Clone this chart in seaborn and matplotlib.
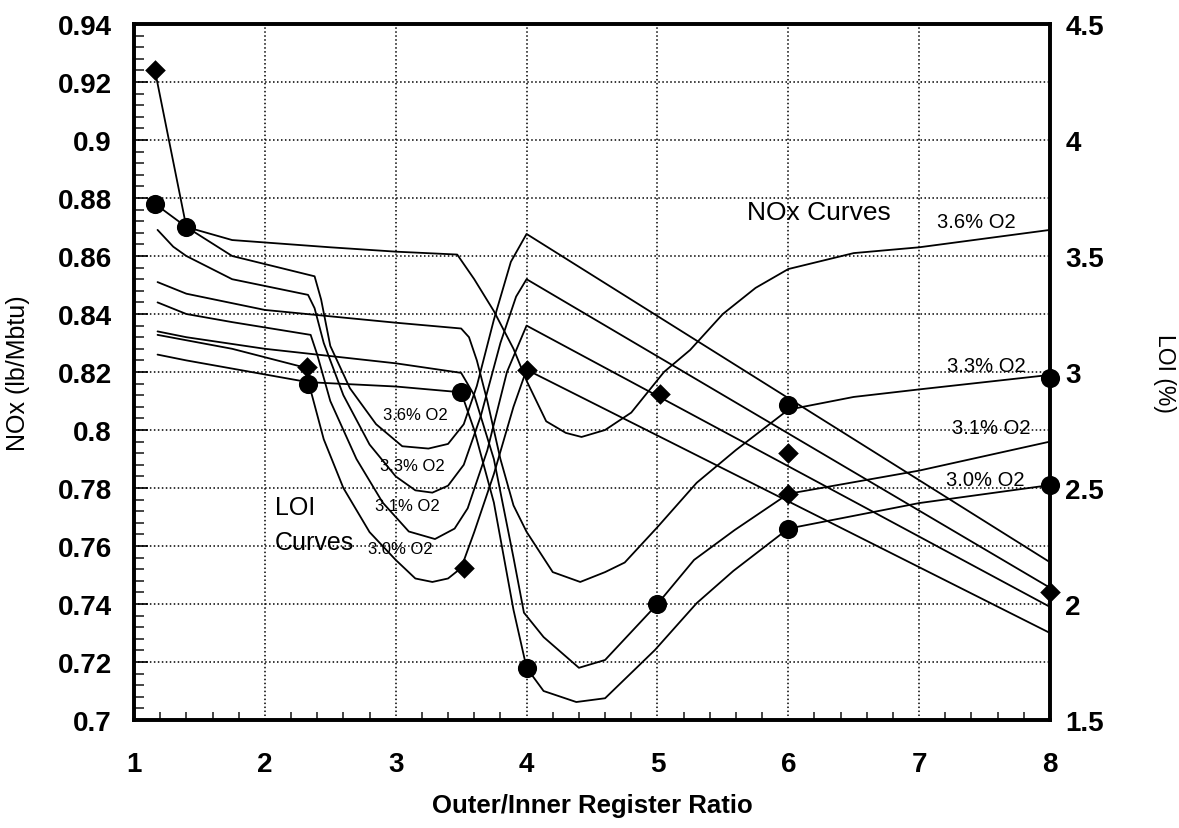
import numpy as np
import matplotlib
matplotlib.use("Agg")
import matplotlib.pyplot as plt
from matplotlib.ticker import MultipleLocator, FuncFormatter
import seaborn as sns

# ---------------- data ----------------
# NOx curves (left axis, lb/Mbtu)
nox36_x = [1.16, 1.4, 1.75, 2.5, 3.0, 3.47, 3.6, 3.75, 3.9, 4.0, 4.15, 4.3, 4.42, 4.6, 4.8, 5.05, 5.25, 5.5, 5.75, 6.0, 6.5, 7.0, 8.0]
nox36_y = [0.878, 0.870, 0.8655, 0.863, 0.8615, 0.8605, 0.852, 0.841, 0.828, 0.817, 0.803, 0.799, 0.7976, 0.800, 0.806, 0.820, 0.8276, 0.840, 0.849, 0.8555, 0.861, 0.863, 0.869]
nox33_x = [1.18, 1.4, 2.0, 3.0, 3.5, 3.56, 3.62, 3.7, 3.8, 3.9, 4.0, 4.2, 4.41, 4.6, 4.75, 5.0, 5.3, 5.6, 6.0, 6.5, 7.0, 8.0]
nox33_y = [0.851, 0.847, 0.8414, 0.837, 0.835, 0.832, 0.824, 0.810, 0.790, 0.774, 0.7649, 0.751, 0.7476, 0.751, 0.7543, 0.7665, 0.7818, 0.7931, 0.807, 0.8114, 0.814, 0.819]
nox31_x = [1.18, 1.4, 2.0, 3.0, 3.5, 3.6, 3.75, 3.9, 3.98, 4.13, 4.4, 4.6, 5.0, 5.28, 5.59, 6.0, 7.0, 8.0]
nox31_y = [0.834, 0.832, 0.828, 0.823, 0.8197, 0.812, 0.790, 0.756, 0.737, 0.7286, 0.718, 0.7207, 0.740, 0.7552, 0.7655, 0.778, 0.786, 0.796]
nox30_x = [1.18, 1.4, 2.33, 3.0, 3.5, 3.6, 3.75, 3.9, 4.0, 4.13, 4.38, 4.6, 4.98, 5.3, 5.58, 6.0, 7.0, 8.0]
nox30_y = [0.826, 0.824, 0.8165, 0.815, 0.813, 0.800, 0.775, 0.738, 0.718, 0.710, 0.7062, 0.7075, 0.7241, 0.7403, 0.7514, 0.766, 0.7748, 0.781]

# LOI curves (right axis, %)
loi36_x = [1.16, 1.4, 1.75, 2.38, 2.43, 2.5, 2.65, 2.85, 3.05, 3.25, 3.4, 3.52, 3.62, 3.75, 3.88, 4.0, 8.0]
loi36_y = [4.30, 3.625, 3.50, 3.4125, 3.3125, 3.1125, 2.93, 2.775, 2.68, 2.67, 2.69, 2.775, 2.94, 3.225, 3.475, 3.595, 2.18]
loi33_x = [1.18, 1.3, 1.4, 1.75, 2.33, 2.38, 2.45, 2.6, 2.8, 3.0, 3.15, 3.28, 3.4, 3.52, 3.65, 3.8, 3.92, 4.0, 8.0]
loi33_y = [3.6125, 3.54, 3.50, 3.40, 3.3325, 3.275, 3.125, 2.90, 2.6875, 2.55, 2.49, 2.48, 2.51, 2.60, 2.81, 3.125, 3.325, 3.40, 2.07]
loi31_x = [1.18, 1.4, 1.75, 2.35, 2.4, 2.5, 2.7, 2.9, 3.1, 3.3, 3.45, 3.55, 3.7, 3.85, 4.0, 8.0]
loi31_y = [3.30, 3.25, 3.215, 3.16, 3.075, 2.875, 2.625, 2.4375, 2.3125, 2.28, 2.325, 2.4125, 2.6625, 3.0, 3.20, 1.9875]
loi30_x = [1.18, 1.75, 2.3, 2.36, 2.45, 2.6, 2.8, 3.0, 3.15, 3.28, 3.4, 3.5, 3.6, 3.75, 3.9, 4.0, 8.0]
loi30_y = [3.16, 3.10, 3.02, 2.90, 2.71, 2.50, 2.31, 2.19, 2.11, 2.095, 2.11, 2.155, 2.31, 2.56, 2.85, 3.01, 1.875]

# measured points
nox_pts_x = [1.16, 1.4, 2.33, 3.5, 4.0, 5.0, 6.0, 6.0, 8.0, 8.0]
nox_pts_y = [0.878, 0.870, 0.816, 0.813, 0.718, 0.740, 0.8085, 0.766, 0.818, 0.781]
loi_pts_x = [1.16, 2.32, 3.52, 4.0, 5.02, 6.0, 6.0, 8.0]
loi_pts_y = [4.30, 3.02, 2.155, 3.01, 2.905, 2.65, 2.475, 2.05]

# tick labels
x_ticks = [1, 2, 3, 4, 5, 6, 7, 8]
left_ticks = [0.7, 0.72, 0.74, 0.76, 0.78, 0.8, 0.82, 0.84, 0.86, 0.88, 0.9, 0.92, 0.94]
right_ticks = [1.5, 2, 2.5, 3, 3.5, 4, 4.5]

# ---------------- figure ----------------
sns.set_theme(style="white")
plt.rcParams['font.family'] = ['Liberation Sans', 'DejaVu Sans']

fig = plt.figure(figsize=(11.79, 8.29), dpi=100)
ax = fig.add_axes([134/1179, 1 - 721/829, (1050-134)/1179, (721-25)/829])
ax2 = ax.twinx()

lw = 1.3
for xs, ys in [(nox36_x, nox36_y), (nox33_x, nox33_y), (nox31_x, nox31_y), (nox30_x, nox30_y)]:
    sns.lineplot(x=xs, y=ys, ax=ax, sort=False, estimator=None, color='black', lw=lw)
for xs, ys in [(loi36_x, loi36_y), (loi33_x, loi33_y), (loi31_x, loi31_y), (loi30_x, loi30_y)]:
    sns.lineplot(x=xs, y=ys, ax=ax2, sort=False, estimator=None, color='black', lw=lw)

sns.scatterplot(x=nox_pts_x, y=nox_pts_y, ax=ax, marker='o', s=190, color='black',
                edgecolor='black', linewidth=0, zorder=5, clip_on=False)
sns.scatterplot(x=loi_pts_x, y=loi_pts_y, ax=ax2, marker='D', s=110, color='black',
                edgecolor='black', linewidth=0, zorder=5, clip_on=False)

ax.set_xlim(1, 8)
ax.set_ylim(0.7, 0.94)
ax2.set_ylim(1.5, 4.5)

ax.set_xticks(x_ticks)
ax.set_yticks(left_ticks)
ax2.set_yticks(right_ticks)
ax.xaxis.set_minor_locator(MultipleLocator(0.2))
ax.yaxis.set_minor_locator(MultipleLocator(0.004))
fmt = FuncFormatter(lambda v, p: f"{v:g}")
ax.yaxis.set_major_formatter(fmt)
ax2.yaxis.set_major_formatter(fmt)
ax.xaxis.set_major_formatter(fmt)

grid_style = dict(color='black', linestyle=(0, (1, 1.6)), linewidth=1.1)
ax.grid(True, which='major', axis='both', **grid_style)
ax.set_axisbelow(True)

ax.tick_params(axis='both', which='major', direction='in', length=10, width=1.2,
               colors='black', pad=16)
ax.tick_params(axis='y', which='minor', direction='in', length=7, width=1.2, left=True)
ax.tick_params(axis='x', which='minor', direction='in', length=6, width=1.2, bottom=True)
ax.tick_params(axis='x', which='major', pad=22)
ax2.tick_params(axis='y', which='both', length=0, pad=11)
for lab in ax.get_xticklabels() + ax.get_yticklabels() + ax2.get_yticklabels():
    lab.set_fontweight('bold')
    lab.set_fontsize(20)
    lab.set_color('black')

for a in (ax, ax2):
    for s in a.spines.values():
        s.set_color('black')
        s.set_linewidth(2.6)
        s.set_visible(True)

ax.set_xlabel("Outer/Inner Register Ratio", fontsize=18.5, fontweight='bold', labelpad=12, color='black')
ax.set_ylabel("NOx (lb/Mbtu)", fontsize=18, labelpad=20, color='black')
ax2.set_ylabel("LOI (%)", fontsize=16.5, rotation=270, labelpad=52, color='black')

# annotations
txt = dict(color='black', ha='left', va='center')
ax.text(5.687, 0.8752, "NOx Curves", fontsize=19, **txt)
ax.text(7.137, 0.8720, "3.6% O2", fontsize=14.5, **txt)
ax.text(7.21, 0.8224, "3.3% O2", fontsize=14.5, **txt)
ax.text(7.25, 0.8007, "3.1% O2", fontsize=14.5, **txt)
ax.text(7.206, 0.7828, "3.0% O2", fontsize=14.5, **txt)
ax.text(2.90, 0.8052, "3.6% O2", fontsize=12, **txt)
ax.text(2.878, 0.7876, "3.3% O2", fontsize=12, **txt)
ax.text(2.84, 0.7738, "3.1% O2", fontsize=12, **txt)
ax.text(2.786, 0.7590, "3.0% O2", fontsize=12, **txt)
ax.text(2.076, 0.7734, "LOI", fontsize=18, **txt)
ax.text(2.076, 0.7614, "Curves", fontsize=18, **txt)

fig.savefig("out.png", dpi=100, facecolor='white')
